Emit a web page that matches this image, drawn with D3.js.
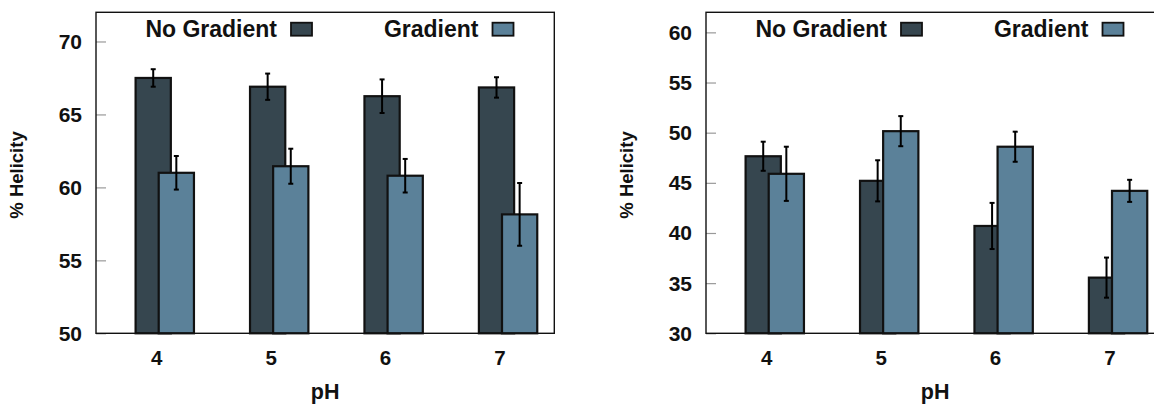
<!DOCTYPE html>
<html>
<head>
<meta charset="utf-8">
<script src="https://cdn.jsdelivr.net/npm/d3@7"></script>
<style>
  body { margin: 0; background: #fff; }
  svg { display: block; font-family: "Liberation Sans", Arial, sans-serif; font-weight: bold; }
</style>
</head>
<body>
<svg id="chart" width="1154" height="404"></svg>
<script>
// pH categories
const phLevels = [4, 5, 6, 7];
const seriesNames = ["No Gradient", "Gradient"];

// left panel
const leftNoGrad = [67.5, 66.9, 66.25, 66.85];
const leftNoGradErr = [0.6, 0.9, 1.15, 0.7];
const leftGrad = [61.0, 61.45, 60.8, 58.15];
const leftGradErr = [1.15, 1.2, 1.15, 2.15];
const leftTicks = [50, 55, 60, 65, 70];

// right panel
const rightNoGrad = [47.65, 45.2, 40.7, 35.55];
const rightNoGradErr = [1.45, 2.05, 2.3, 2.0];
const rightGrad = [45.9, 50.15, 48.6, 44.2];
const rightGradErr = [2.7, 1.5, 1.5, 1.1];
const rightTicks = [30, 35, 40, 45, 50, 55, 60];

const colors = ["#36464f", "#5b8199"];

const svg = d3.select("#chart");

// Draw one panel
function drawPanel(left, yDomain, yTicks, values, errors) {
  const top = 12.3, bottom = 333.3, right = left + 458.3;
  const g = svg.append("g");

  const x = d3.scaleLinear().domain([3.47, 7.475]).range([left, right]);
  const y = d3.scaleLinear().domain(yDomain).range([bottom, top]);

  const offsets = [-0.03, 0.172]; // cluster offsets in pH units
  const barW = 0.308;

  // y ticks (grey, inward)
  const yAxis = g.append("g")
    .attr("transform", `translate(${left},0)`)
    .call(d3.axisRight(y).tickValues(yTicks).tickSize(10).tickFormat(""));
  yAxis.select(".domain").remove();
  yAxis.selectAll("line").attr("stroke", "#999").attr("stroke-width", 1.2);

  g.selectAll(".ytl")
    .data(yTicks)
    .enter()
    .append("text")
    .attr("x", left - 14)
    .attr("y", (d) => y(d) + 7.5)
    .attr("text-anchor", "end")
    .attr("font-size", 21)
    .attr("fill", "#111")
    .text((d) => d);

  // bars, series by series so the second sits on top
  values.forEach((vals, s) => {
    g.append("g")
      .selectAll("rect")
      .data(vals)
      .enter()
      .append("rect")
      .attr("x", (d, i) => x(phLevels[i] + offsets[s] - barW / 2))
      .attr("width", x(barW) - x(0))
      .attr("y", (d) => y(d))
      .attr("height", (d) => bottom - y(d))
      .attr("fill", colors[s])
      .attr("stroke", "#111")
      .attr("stroke-width", 2.2);

    // error bars
    const eg = g.append("g").attr("stroke", "#000").attr("stroke-width", 2);
    vals.forEach((v, i) => {
      const cx = x(phLevels[i] + offsets[s]);
      const e = errors[s][i];
      eg.append("line").attr("x1", cx).attr("x2", cx).attr("y1", y(v + e)).attr("y2", y(v - e));
      eg.append("line").attr("x1", cx - 2.5).attr("x2", cx + 2.5).attr("y1", y(v + e)).attr("y2", y(v + e));
      eg.append("line").attr("x1", cx - 2.5).attr("x2", cx + 2.5).attr("y1", y(v - e)).attr("y2", y(v - e));
    });
  });

  // frame
  g.append("rect")
    .attr("x", left)
    .attr("y", top)
    .attr("width", right - left)
    .attr("height", bottom - top)
    .attr("fill", "none")
    .attr("stroke", "#111")
    .attr("stroke-width", 1.4);

  // x tick labels
  g.selectAll(".xtl")
    .data(phLevels)
    .enter()
    .append("text")
    .attr("x", (d) => x(d))
    .attr("y", 365)
    .attr("text-anchor", "middle")
    .attr("font-size", 20.5)
    .attr("fill", "#111")
    .text((d) => d);

  // axis titles
  g.append("text")
    .attr("x", (left + right) / 2)
    .attr("y", 399)
    .attr("text-anchor", "middle")
    .attr("font-size", 21.5)
    .attr("fill", "#111")
    .text("pH");

  g.append("text")
    .attr("transform", `translate(${left - 73},175) rotate(-90)`)
    .attr("text-anchor", "middle")
    .attr("font-size", 18.5)
    .attr("fill", "#111")
    .text("% Helicity");

  // legend
  const legX = [left + 195, left + 396.5];
  seriesNames.forEach((name, s) => {
    g.append("text")
      .attr("x", legX[s] - 14)
      .attr("y", 36.5)
      .attr("text-anchor", "end")
      .attr("font-size", 23)
      .attr("fill", "#111")
      .text(name);
    g.append("rect")
      .attr("x", legX[s])
      .attr("y", 22.7)
      .attr("width", 21)
      .attr("height", 13)
      .attr("fill", colors[s])
      .attr("stroke", "#111")
      .attr("stroke-width", 1.8);
  });
}

drawPanel(96, [50, 72], leftTicks, [leftNoGrad, leftGrad], [leftNoGradErr, leftGradErr]);
drawPanel(706, [30, 62], rightTicks, [rightNoGrad, rightGrad], [rightNoGradErr, rightGradErr]);
</script>
</body>
</html>
